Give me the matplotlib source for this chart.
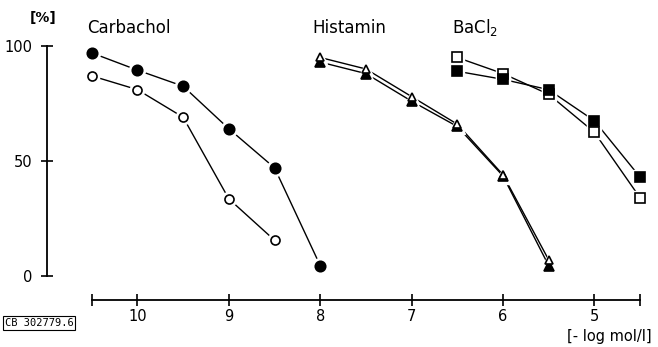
import matplotlib
matplotlib.use("Agg")
import matplotlib.pyplot as plt

# ---- data ----
carb_x = [10.5, 10.0, 9.5, 9.0, 8.5, 8.0]
carb_filled = [97, 89.5, 82.5, 64, 47, 4.5]
carb_open_x = [10.5, 10.0, 9.5, 9.0, 8.5]
carb_open = [87, 81, 69, 33.5, 15.5]

hist_x = [8.0, 7.5, 7.0, 6.5, 6.0, 5.5]
hist_open = [95, 90, 78, 66, 44, 7]
hist_filled = [93, 88, 76, 65, 43.5, 4.5]

ba_x = [6.5, 6.0, 5.5, 5.0, 4.5]
ba_open = [95, 88, 79, 62.5, 34]
ba_filled = [89, 85.5, 81, 67.5, 43]

x_ticks = [10.5, 10, 9, 8, 7, 6, 5, 4.5]
x_ticklabels = ["", "10", "9", "8", "7", "6", "5", ""]
y_ticks = [0, 50, 100]
y_ticklabels = ["0", "50", "100"]

W, H = 658, 347
fig = plt.figure(figsize=(W / 100, H / 100), dpi=100)
left, right, bottom, top = 47, 640, 300, 46
ax = fig.add_axes([left / W, (H - bottom) / H, (right - left) / W, (bottom - top) / H])
ax.set_xlim(10.99, 4.5)
ax.set_ylim(-10.5, 100)

lw = 1.0


def series(x, y, marker, filled, ms):
    ax.plot(x, y, color="black", lw=lw, zorder=2, clip_on=False)
    # white halo to create gap between line and marker
    ax.plot(x, y, ls="none", marker=marker, ms=ms + 4, mfc="white", mec="white",
            zorder=3, clip_on=False)
    ax.plot(x, y, ls="none", marker=marker, ms=ms,
            mfc="black" if filled else "white", mec="black", mew=1.2,
            zorder=4, clip_on=False)


series(carb_x, carb_filled, "o", True, 7.5)
series(carb_open_x, carb_open, "o", False, 6.5)
series(hist_x, hist_filled, "^", True, 7)
series(hist_x, hist_open, "^", False, 6)
series(ba_x, ba_open, "s", False, 6.5)
series(ba_x, ba_filled, "s", True, 6.5)

for s in ["top", "right"]:
    ax.spines[s].set_visible(False)
ax.spines["left"].set_bounds(0, 100)
ax.spines["bottom"].set_bounds(10.5, 4.5)
ax.spines["left"].set_linewidth(1.3)
ax.spines["bottom"].set_linewidth(1.3)

ax.set_xticks(x_ticks)
ax.set_xticklabels(x_ticklabels)
ax.set_yticks(y_ticks)
ax.set_yticklabels(y_ticklabels)
ax.tick_params(axis="both", direction="inout", length=9, width=1.2,
               labelsize=10.5, colors="black")
ax.tick_params(axis="x", pad=2)
ax.tick_params(axis="y", pad=6)

tk = dict(fontsize=12, color="black", fontfamily="DejaVu Sans")
fig.text(87 / W, 1 - 28 / H, "Carbachol", va="center", ha="left", **tk)
fig.text(312 / W, 1 - 28 / H, "Histamin", va="center", ha="left", **tk)
fig.text(452 / W, 1 - 28 / H, r"BaCl$_2$", va="center", ha="left", **tk)
fig.text(43 / W, 1 - 18 / H, "[%]", va="center", ha="center", fontsize=10,
         fontweight="bold", color="black")
fig.text(652 / W, 1 - 336 / H, "[- log mol/l]", va="center", ha="right",
         fontsize=10.5, color="black")
fig.text(5 / W, 1 - 323 / H, "CB 302779.6", va="center", ha="left", fontsize=7.5,
         fontfamily="DejaVu Sans Mono",
         bbox=dict(boxstyle="square,pad=0.15", fc="white", ec="black", lw=0.8))

fig.savefig("out.png", dpi=100)
